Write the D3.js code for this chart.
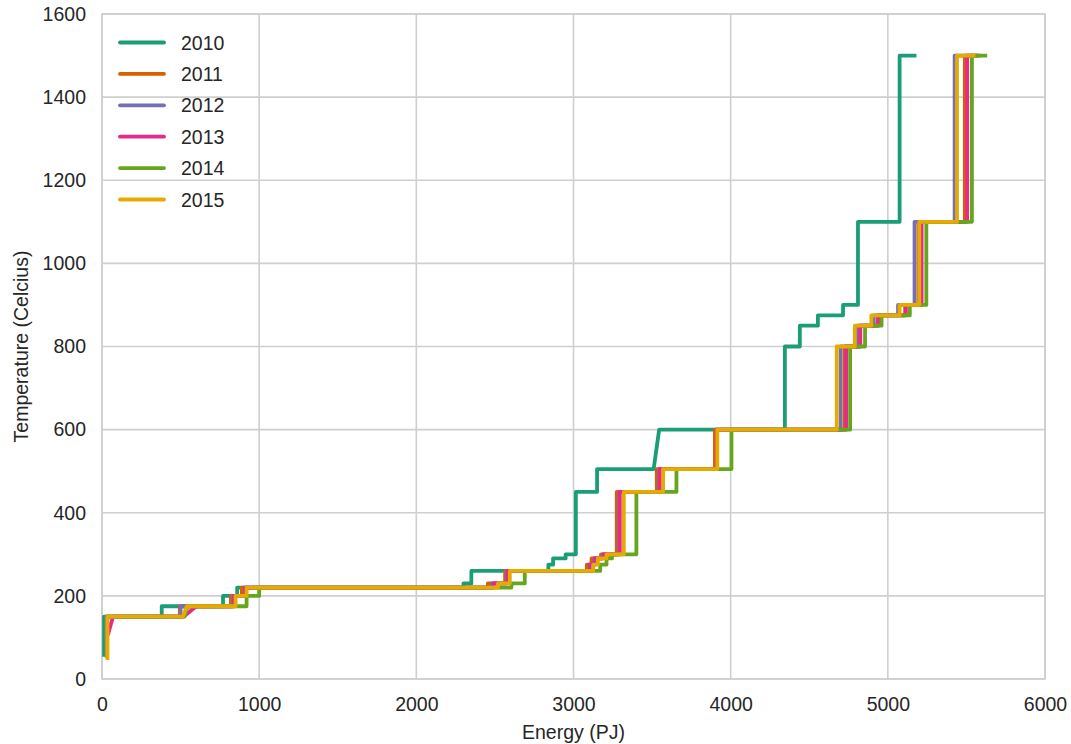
<!DOCTYPE html>
<html>
<head>
<meta charset="utf-8">
<script src="https://cdn.jsdelivr.net/npm/d3@7"></script>
<style>
  body { margin: 0; background: #ffffff; }
  svg { display: block; font-family: "Liberation Sans", Arial, sans-serif; }
</style>
</head>
<body>
<svg id="chart" width="1071" height="744"></svg>
<script>
// ---- Data (energy in PJ, temperature in Celcius) ----
const years = ["2010", "2011", "2012", "2013", "2014", "2015"];
const colors = ["#1b9e77", "#d95f02", "#7570b3", "#e7298a", "#66a61e", "#e6ab02"];

const xTicks = [0, 1000, 2000, 3000, 4000, 5000, 6000];
const yTicks = [0, 200, 400, 600, 800, 1000, 1200, 1400, 1600];

const s2010 = [[13,58],[13,150],[380,150],[380,175],[770,175],[770,200],[860,200],[860,220],[2300,220],[2300,230],[2350,230],[2350,260],[2840,260],[2840,275],[2870,275],[2870,290],[2950,290],[2950,300],[3015,300],[3015,450],[3150,450],[3150,505],[3510,505],[3545,600],[4345,600],[4345,800],[4440,800],[4440,850],[4555,850],[4555,875],[4715,875],[4715,900],[4810,900],[4810,1100],[5075,1100],[5075,1500],[5170,1500]];
const s2011 = [[25,60],[25,150],[495,150],[495,175],[820,175],[820,200],[890,200],[890,220],[2455,220],[2455,230],[2565,230],[2565,260],[3085,260],[3085,275],[3115,275],[3115,290],[3175,290],[3175,300],[3275,300],[3275,450],[3530,450],[3530,505],[3900,505],[3900,600],[4725,600],[4725,800],[4820,800],[4820,850],[4935,850],[4935,875],[5110,875],[5110,900],[5195,900],[5195,1100],[5490,1100],[5490,1500],[5560,1500]];
const s2012 = [[25,60],[25,150],[500,150],[500,175],[835,175],[835,200],[912,200],[912,220],[2480,220],[2480,230],[2575,230],[2575,260],[3100,260],[3100,275],[3130,275],[3130,290],[3185,290],[3185,300],[3290,300],[3290,450],[3545,450],[3545,505],[3912,505],[3912,600],[4700,600],[4700,800],[4805,800],[4805,850],[4910,850],[4910,875],[5065,875],[5065,900],[5170,900],[5170,1100],[5425,1100],[5425,1500],[5530,1500]];
const s2013 = [[40,110],[70,150],[520,150],[600,175],[840,175],[840,200],[912,200],[912,220],[2490,220],[2490,230],[2580,230],[2580,260],[3105,260],[3105,275],[3135,275],[3135,290],[3190,290],[3190,300],[3295,300],[3295,450],[3550,450],[3550,505],[3912,505],[3912,600],[4735,600],[4735,800],[4825,800],[4825,850],[4940,850],[4940,875],[5115,875],[5115,900],[5215,900],[5215,1100],[5505,1100],[5505,1500],[5580,1500]];
const s2014 = [[30,55],[30,150],[525,150],[545,175],[920,175],[920,200],[1000,200],[1000,220],[2605,220],[2605,230],[2690,230],[2690,260],[3170,260],[3170,275],[3210,275],[3210,290],[3245,290],[3245,300],[3400,300],[3400,450],[3655,450],[3655,505],[4005,505],[4005,600],[4760,600],[4760,800],[4855,800],[4855,850],[4960,850],[4960,875],[5140,875],[5140,900],[5245,900],[5245,1100],[5535,1100],[5535,1500],[5620,1500]];
const s2015 = [[35,50],[35,150],[515,150],[540,175],[850,175],[850,200],[920,200],[920,220],[2520,220],[2520,230],[2595,230],[2595,260],[3125,260],[3125,275],[3155,275],[3155,290],[3210,290],[3210,300],[3320,300],[3320,450],[3570,450],[3570,505],[3915,505],[3915,600],[4675,600],[4675,800],[4790,800],[4790,850],[4895,850],[4895,875],[5075,875],[5075,900],[5200,900],[5200,1100],[5440,1100],[5440,1500],[5545,1500]];

const seriesData = [s2010, s2011, s2012, s2013, s2014, s2015];

// ---- Layout ----
const margin = { left: 102, right: 26, top: 14, bottom: 65 };
const W = 1071, H = 744;
const svg = d3.select("#chart");
const x = d3.scaleLinear().domain([0, 6000]).range([margin.left, W - margin.right]);
const y = d3.scaleLinear().domain([0, 1600]).range([H - margin.bottom, margin.top]);

const textColor = "#262626";
const gridColor = "#cfcfcf";
const fontSize = "19.5px";

// grid
const g = svg.append("g");
g.selectAll(".vgrid").data(xTicks).join("line")
  .attr("x1", d => x(d)).attr("x2", d => x(d))
  .attr("y1", y(0)).attr("y2", y(1600))
  .attr("stroke", gridColor).attr("stroke-width", 1.6);
g.selectAll(".hgrid").data(yTicks).join("line")
  .attr("y1", d => y(d)).attr("y2", d => y(d))
  .attr("x1", x(0)).attr("x2", x(6000))
  .attr("stroke", gridColor).attr("stroke-width", 1.6);

// axes (labels only, no tick marks)
const xAxis = d3.axisBottom(x).tickValues(xTicks).tickSize(0).tickPadding(18).tickFormat(d3.format("d"));
const xg = svg.append("g").attr("transform", `translate(0,${y(0)})`).call(xAxis);
xg.select(".domain").remove();
xg.selectAll("text").attr("fill", textColor).style("font-size", fontSize).attr("dy", "0.71em");

const yAxis = d3.axisLeft(y).tickValues(yTicks).tickSize(0).tickPadding(16).tickFormat(d3.format("d"));
const yg = svg.append("g").attr("transform", `translate(${x(0)},0)`).call(yAxis);
yg.select(".domain").remove();
yg.selectAll("text").attr("fill", textColor).style("font-size", fontSize);

// spines
svg.append("rect")
  .attr("x", x(0)).attr("y", y(1600))
  .attr("width", x(6000) - x(0)).attr("height", y(0) - y(1600))
  .attr("fill", "none").attr("stroke", gridColor).attr("stroke-width", 1.6);

// axis titles
svg.append("text")
  .attr("x", (x(0) + x(6000)) / 2).attr("y", 739)
  .attr("text-anchor", "middle").attr("fill", textColor)
  .style("font-size", fontSize).text("Energy (PJ)");
svg.append("text")
  .attr("transform", `translate(28,${(y(0) + y(1600)) / 2}) rotate(-90)`)
  .attr("text-anchor", "middle").attr("fill", textColor)
  .style("font-size", fontSize).text("Temperature (Celcius)");

// lines
const line = d3.line().x(d => x(d[0])).y(d => y(d[1]));
svg.append("clipPath").attr("id", "clip").append("rect")
  .attr("x", x(0)).attr("y", y(1600) - 5).attr("width", x(6000) - x(0)).attr("height", y(0) - y(1600) + 5);
svg.append("g").attr("clip-path", "url(#clip)")
  .selectAll("path").data(seriesData).join("path")
  .attr("d", line)
  .attr("fill", "none")
  .attr("stroke", (d, i) => colors[i])
  .attr("stroke-width", 3.8)
  .attr("stroke-linejoin", "round")
  .attr("stroke-linecap", "square");

// legend
const leg = svg.append("g");
years.forEach((yr, i) => {
  const cy = 42.5 + i * 31.4;
  leg.append("line")
    .attr("x1", 120).attr("x2", 164).attr("y1", cy).attr("y2", cy)
    .attr("stroke", colors[i]).attr("stroke-width", 3.8).attr("stroke-linecap", "round");
  leg.append("text")
    .attr("x", 181).attr("y", cy).attr("dy", "0.36em")
    .attr("fill", textColor).style("font-size", fontSize).text(yr);
});
</script>
</body>
</html>
